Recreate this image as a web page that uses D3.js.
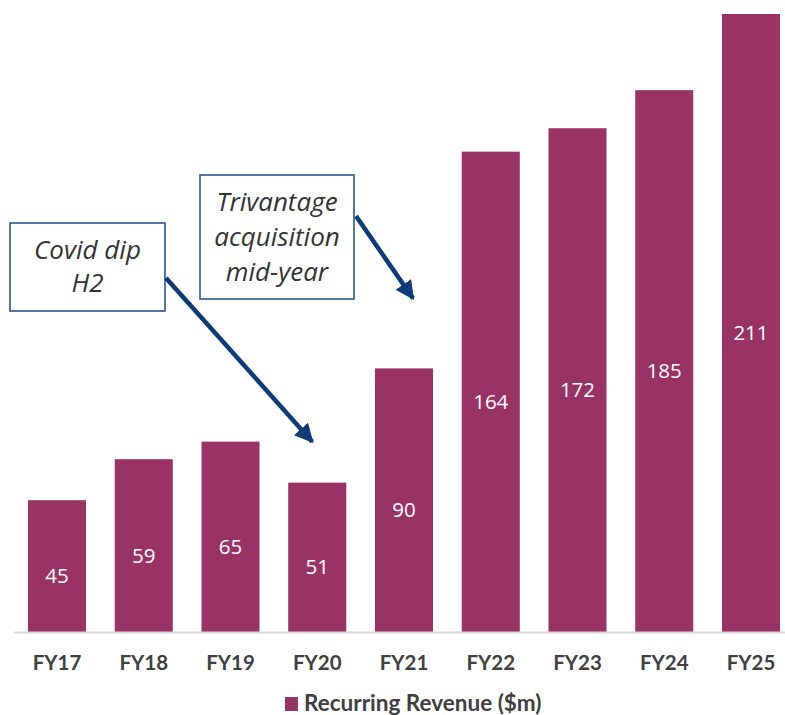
<!DOCTYPE html>
<html>
<head>
<meta charset="utf-8">
<script src="https://cdn.jsdelivr.net/npm/d3@7"></script>
<style>
  body { margin: 0; background: #fff; }
  svg { display: block; }
</style>
</head>
<body>
<div id="chart"></div>
<script>
var years = ["FY17", "FY18", "FY19", "FY20", "FY21", "FY22", "FY23", "FY24", "FY25"];
var revenue = [45, 59, 65, 51, 90, 164, 172, 185, 211];
var seriesName = "Recurring Revenue ($m)";

var svgWidth = 785;
var svgHeight = 715;
var barColor = "#993366";
var arrowColor = "#0d3b7a";

var svg = d3.select("#chart")
    .append("svg")
    .attr("width", svgWidth)
    .attr("height", svgHeight);

var x = d3.scaleBand()
    .domain(years)
    .range([13.6, 794.4])
    .paddingInner(0.331)
    .paddingOuter(0.166);

var y = d3.scaleLinear()
    .domain([0, 211])
    .range([632, 14]);

// bars
svg.selectAll("rect.bar")
    .data(revenue)
    .enter()
    .append("rect")
    .attr("class", "bar")
    .attr("x", (d, i) => x(years[i]))
    .attr("y", d => y(d))
    .attr("width", x.bandwidth())
    .attr("height", d => y(0) - y(d))
    .attr("fill", barColor);

// value labels
svg.selectAll("text.val")
    .data(revenue)
    .enter()
    .append("text")
    .attr("class", "val")
    .attr("x", (d, i) => x(years[i]) + x.bandwidth() / 2)
    .attr("y", d => (y(d) + y(0)) / 2 + 17)
    .attr("text-anchor", "middle")
    .style("font-family", "'Open Sans', sans-serif")
    .style("font-size", "20.5px")
    .style("fill", "#fff")
    .text(d => d);

// x axis
var xAxis = svg.append("g")
    .attr("transform", `translate(0, ${y(0)})`)
    .call(d3.axisBottom(x).tickSize(0).tickSizeOuter(0).tickPadding(23));

xAxis.select(".domain")
    .attr("stroke", "#d9d9d9")
    .attr("stroke-width", 2);

xAxis.selectAll("text")
    .style("font-family", "Lato, sans-serif")
    .style("font-weight", "bold")
    .style("font-size", "20.5px")
    .style("fill", "#404040");

// legend
var legend = svg.append("g");
legend.append("rect")
    .attr("x", 285)
    .attr("y", 697)
    .attr("width", 13)
    .attr("height", 14)
    .attr("fill", barColor);
legend.append("text")
    .attr("x", 304)
    .attr("y", 711)
    .style("font-family", "Lato, sans-serif")
    .style("font-weight", "bold")
    .style("font-size", "22.5px")
    .style("fill", "#404040")
    .text(seriesName);

// arrow head
svg.append("defs").append("marker")
    .attr("id", "head")
    .attr("viewBox", "0 0 10 10")
    .attr("refX", 9)
    .attr("refY", 5)
    .attr("markerWidth", 4.2)
    .attr("markerHeight", 4.2)
    .attr("orient", "auto")
    .append("path")
    .attr("d", "M0,0 L10,5 L0,10 z")
    .attr("fill", arrowColor);

// annotations
var notes = [
    {lines: ["Covid dip", "H2"], box: [10, 223, 155, 88], lineY: [259, 292],
     from: [166, 278], to: [x("FY20") + x.bandwidth() / 2 - 5, y(51) - 41]},
    {lines: ["Trivantage", "acquisition", "mid-year"], box: [200, 175, 154, 124], lineY: [211, 246, 281],
     from: [356, 216], to: [x("FY21") + x.bandwidth() / 2 + 9, y(90) - 70]}
];

notes.forEach(function (n) {
    svg.append("rect")
        .attr("x", n.box[0])
        .attr("y", n.box[1])
        .attr("width", n.box[2])
        .attr("height", n.box[3])
        .attr("fill", "#fff")
        .attr("stroke", "#2a5590")
        .attr("stroke-width", 1.6);

    svg.append("text")
        .attr("text-anchor", "middle")
        .style("font-family", "'Open Sans', sans-serif")
        .style("font-style", "italic")
        .style("font-size", "26px")
        .style("fill", "#333")
        .selectAll("tspan")
        .data(n.lines)
        .enter()
        .append("tspan")
        .attr("x", n.box[0] + n.box[2] / 2)
        .attr("y", (d, i) => n.lineY[i])
        .text(d => d);

    svg.append("line")
        .attr("x1", n.from[0])
        .attr("y1", n.from[1])
        .attr("x2", n.to[0])
        .attr("y2", n.to[1])
        .attr("stroke", arrowColor)
        .attr("stroke-width", 4.5)
        .attr("marker-end", "url(#head)");
});
</script>
</body>
</html>
